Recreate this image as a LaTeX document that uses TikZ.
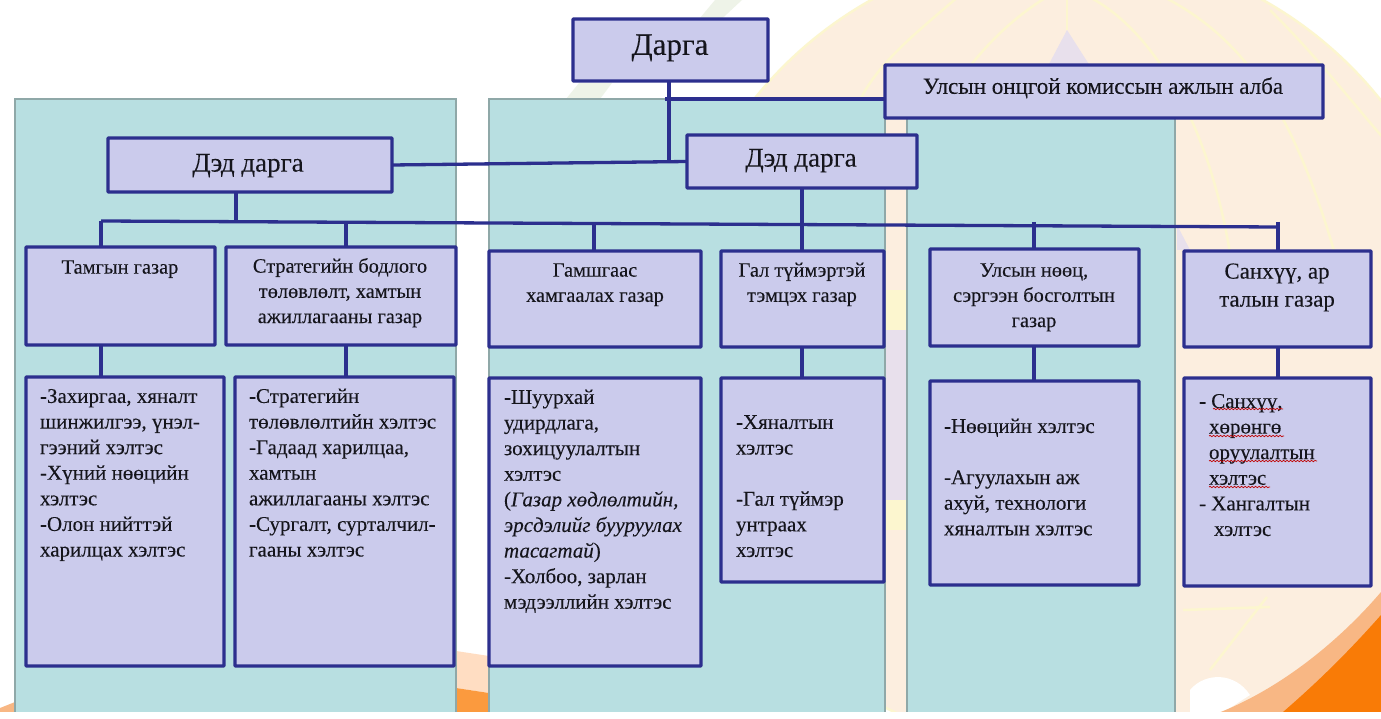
\documentclass[tikz,border=0pt]{standalone}
\usepackage{fontspec}
\setmainfont{Liberation Serif}[FakeBold=0.12]
\usetikzlibrary{decorations.pathmorphing}
\definecolor{boxfill}{HTML}{CBCBEC}
\definecolor{boxline}{HTML}{2C2F8E}
\definecolor{panelfill}{HTML}{B8DFE1}
\definecolor{panelline}{HTML}{8FA8A8}
\definecolor{inkc}{HTML}{15151C}
\definecolor{creamc}{HTML}{FCEEDF}
\definecolor{orangec}{HTML}{F97B06}
\definecolor{lightorange}{HTML}{F8B784}
\definecolor{paleorange}{HTML}{FFDDC2}
\definecolor{midorange}{HTML}{FB9A3E}
\definecolor{arcc}{HTML}{FCF6CF}
\definecolor{lavc}{HTML}{E8E0EC}
\definecolor{greenc}{HTML}{EEF3E8}
\tikzset{
  bx/.style={draw=boxline,fill=boxfill,line width=3.3pt,rectangle,inner sep=0pt,outer sep=0pt,rounded corners=0.8pt},
  panel/.style={draw=panelline,fill=panelfill,line width=2.5pt},
  conn/.style={draw=boxline,line width=3.3pt},
  txt/.style={inner sep=0pt,outer sep=0pt,text=inkc,font=\fontsize{21}{25.6}\selectfont},
  lt/.style={txt,anchor=north west,align=left},
  ct/.style={txt,anchor=north,align=center,font=\fontsize{20.4}{25.2}\selectfont},
  arcl/.style={draw=arcc,line width=2.5pt},
  wavy/.style={draw=red!75!black,line width=0.7pt,decorate,decoration={snake,amplitude=0.7pt,segment length=3.5pt}}
}
\newcommand{\orgbox}[5]{\node[bx,minimum width={(#4-#2)*1pt},minimum height={(#5-#3)*1pt}] (#1) at ({(#2+#4)/2},{(#3+#5)/2}) {};}
\begin{document}
\begin{tikzpicture}[x=1pt,y=-1pt]
\useasboundingbox (0,0) rectangle (1381,719);
\begin{scope}
\clip (0,0) rectangle (1381,719);
\fill[white] (0,0) rectangle (1381,719);
% faint emblem
\fill[greenc] (742,0) -- (715,0) -- (690,30) -- (713,27) -- cycle;
\fill[greenc] (612,83) -- (579,83) -- (566,99) -- (600,99) -- cycle;
\fill[creamc] (1067,350) circle (401);
\draw[arcl] (1067,350) circle (401);
\fill[lavc] (1067,30) -- (1048,66) -- (1090,66) -- cycle;
\draw[arcl] (1067,-5) -- (1067,30);
\draw[arcl] (1085,-5) .. controls (1140,20) and (1215,110) .. (1235,290);
\draw[arcl] (1160,-5) .. controls (1250,40) and (1300,120) .. (1345,290);
\draw[arcl] (1270,10) .. controls (1320,60) and (1350,100) .. (1385,140);
\draw[arcl] (1050,-5) .. controls (1000,25) and (960,70) .. (930,130);
\draw[arcl] (960,-5) .. controls (920,30) and (880,60) .. (860,100);
\fill[lavc] (1177,225) -- (1190,250) -- (1177,250) -- cycle;
\fill[arcc] (885,290) rectangle (907,330);
\fill[lavc] (885,330) rectangle (907,500);
\fill[arcc] (885,500) rectangle (907,530);
\draw[arcl] (1183,610) -- (1270,607);
\draw[arcl] (1267,597) -- (1210,670);
% lower right swoosh
\fill[white] (1190,690) .. controls (1205,672) and (1235,672) .. (1250,695) -- (1213,719) -- (1190,719) -- cycle;
\fill[lightorange] (1381,592) .. controls (1340,640) and (1280,690) .. (1213,715) -- (1213,719) -- (1381,719) -- cycle;
\fill[orangec] (1381,615) .. controls (1350,650) and (1320,680) .. (1283,712) -- (1283,719) -- (1381,719) -- cycle;
% gap between left panels
\fill[paleorange] (456,651) -- (489,656) -- (489,693) -- (456,688) -- cycle;
\fill[midorange] (456,688) -- (489,693) -- (489,719) -- (456,719) -- cycle;
\fill[lightorange] (0,708) -- (15,702) -- (15,719) -- (0,719) -- cycle;
\end{scope}
% panels
\draw[panel] (15,99) rectangle (456,730);
\draw[panel] (489,99) rectangle (885,730);
\draw[panel] (907,99) rectangle (1175,730);
\fill[white] (0,712) rectangle (1381,719);
% boxes
\orgbox{chief}{573}{19}{768}{81}
\orgbox{commission}{885}{65}{1323}{118}
\orgbox{vicer}{687}{135}{917}{188}
\orgbox{vicel}{108}{138}{392}{192}
\orgbox{tamga}{26}{247}{215}{345}
\orgbox{strat}{226}{247}{456}{345}
\orgbox{gamsh}{489}{251}{701}{347}
\orgbox{gal}{721}{251}{884}{347}
\orgbox{nuuts}{930}{249}{1139}{346}
\orgbox{sankhuu}{1184}{251}{1371}{347}
\orgbox{tamgasub}{26}{377}{224}{666}
\orgbox{stratsub}{235}{377}{454}{666}
\orgbox{gamshsub}{489}{378}{701}{666}
\orgbox{galsub}{721}{378}{884}{582}
\orgbox{nuutssub}{930}{381}{1139}{585}
\orgbox{sankhuusub}{1184}{378}{1371}{586}
% connector coordinates
\coordinate (busw) at (101,221);
\coordinate (buse) at (1278,227);
\coordinate (b1) at (101,221);
\coordinate (b2) at (346,222);
\coordinate (b3) at (594,224);
\coordinate (b4) at (802,224);
\coordinate (b5) at (1034,222);
\coordinate (b6) at (1278,222);
\coordinate (bv) at (236,222);
\coordinate (cx) at (669,99);
\coordinate (cl) at (665,99);
% connectors
\draw[conn] (chief.south -| cx) -- (cx |- vicer.west);
\draw[conn] (cl) -- (cl -| commission.west);
\draw[conn] (vicel.east) -- (vicer.west);
\draw[conn] (busw) -- (buse);
\draw[conn] (vicel.south -| bv) -- (bv);
\draw[conn] (vicer.south -| b4) -- (b4);
\draw[conn] (b1) -- (b1 |- tamga.north);
\draw[conn] (b2) -- (b2 |- strat.north);
\draw[conn] (b3) -- (b3 |- gamsh.north);
\draw[conn] (b4) -- (b4 |- gal.north);
\draw[conn] (b5) -- (b5 |- nuuts.north);
\draw[conn] (b6) -- (b6 |- sankhuu.north);
\draw[conn] (b1 |- tamga.south) -- (b1 |- tamgasub.north);
\draw[conn] (b2 |- strat.south) -- (b2 |- stratsub.north);
\draw[conn] (b4 |- gal.south) -- (b4 |- galsub.north);
\draw[conn] (b5 |- nuuts.south) -- (b5 |- nuutssub.north);
\draw[conn] (b6 |- sankhuu.south) -- (b6 |- sankhuusub.north);
% titles
\node[ct,font=\fontsize{31}{34}\selectfont] (tchief) at (670,31) {\strut Дарга};
\node[ct,font=\fontsize{23}{24}\selectfont] (tcomm) at (1103,77) {\strut Улсын онцгой комиссын ажлын алба};
\node[ct,font=\fontsize{27}{28}\selectfont] (tvr) at (801,147) {\strut Дэд дарга};
\node[ct,font=\fontsize{27}{28}\selectfont] (tvl) at (248,152) {\strut Дэд дарга};
\node[ct] (ttamga) at (120,256) {\strut Тамгын газар};
\node[ct] (tstrat) at (340,255) {\strut Стратегийн бодлого\\төлөвлөлт, хамтын\\ажиллагааны газар};
\node[ct] (tgamsh) at (595,259) {\strut Гамшгаас\\хамгаалах газар};
\node[ct] (tgal) at (802,259) {\strut Гал түймэртэй\\тэмцэх газар};
\node[ct] (tnuuts) at (1034,259) {\strut Улсын нөөц,\\сэргээн босголтын\\газар};
\node[ct,font=\fontsize{22.9}{28}\selectfont] (tsankhuu) at (1277,259) {\strut Санхүү, ар\\талын газар};
% list texts
\node[lt] (ltamga) at (40,385) {\strut -Захиргаа, хяналт\\шинжилгээ, үнэл-\\гээний хэлтэс\\-Хүний нөөцийн\\хэлтэс\\-Олон нийттэй\\харилцах хэлтэс};
\node[lt] (lstrat) at (249,385) {\strut -Стратегийн\\төлөвлөлтийн хэлтэс\\-Гадаад харилцаа,\\хамтын\\ажиллагааны хэлтэс\\-Сургалт, сурталчил-\\гааны хэлтэс};
\node[lt] (lgamsh) at (504,386) {\strut -Шуурхай\\удирдлага,\\зохицуулалтын\\хэлтэс\\(\textit{Газар хөдлөлтийн,}\\\textit{эрсдэлийг бууруулах}\\\textit{тасагтай})\\-Холбоо, зарлан\\мэдээллийн хэлтэс};
\node[lt] (lgal) at (736,411) {\strut -Хяналтын\\хэлтэс\\[25.6pt]-Гал түймэр\\унтраах\\хэлтэс};
\node[lt] (lnuuts) at (944,415) {\strut -Нөөцийн хэлтэс\\[25.6pt]-Агуулахын аж\\ахуй, технологи\\хяналтын хэлтэс};
\node[lt] (lsankhuu) at (1199,390) {\strut - Санхүү,\\\hspace*{10pt}хөрөнгө\\\hspace*{10pt}оруулалтын\\\hspace*{10pt}хэлтэс\\- Хангалтын\\\hspace*{15pt}хэлтэс};
% spell-check underlines
\draw[wavy] (1213,409) -- (1283,409);
\draw[wavy] (1209,436) -- (1284,436);
\draw[wavy] (1209,461) -- (1317,461);
\draw[wavy] (1209,487) -- (1270,487);
\end{tikzpicture}
\end{document}
